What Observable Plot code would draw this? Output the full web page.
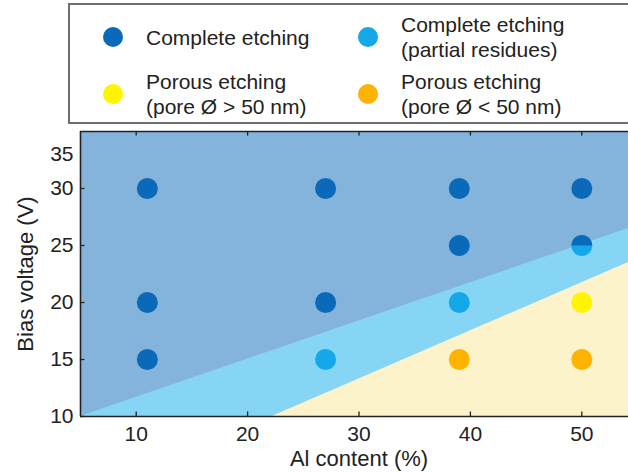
<!DOCTYPE html>
<html>
<head>
<meta charset="utf-8">
<script src="https://cdn.jsdelivr.net/npm/d3@7"></script>
<script src="https://cdn.jsdelivr.net/npm/@observablehq/plot@0.6"></script>
<style>
  html, body { margin: 0; padding: 0; background: #fff; overflow: hidden; }
  body { width: 628px; height: 472px; font-family: "Liberation Sans", Arial, sans-serif; color: #222; }
  #legend { position: relative; width: 628px; height: 127px; overflow: hidden; }
  #legendBox { position: absolute; left: 68px; top: 3px; width: 590px; height: 117px; border: 2px solid #6e6e6e; }
  .sw { position: absolute; width: 20px; height: 20px; border-radius: 50%; transform: translate(-50%, -50%); }
  .lab { position: absolute; white-space: pre; font-size: 21px; line-height: 25px; transform: translateY(-50%); color: #222; }
  #chart svg { display: block; }
</style>
</head>
<body>
<div id="legend"><div id="legendBox"></div></div>
<div id="chart"></div>
<script>
// ---- data ----
const categories = ["complete", "residues", "porousLarge", "porousSmall"];
const categoryLabels = ["Complete etching", "Complete etching\n(partial residues)", "Porous etching\n(pore Ø > 50 nm)", "Porous etching\n(pore Ø < 50 nm)"];
const categoryColors = ["#0b69ba", "#14a8e8", "#fff500", "#ffb300"];

const alContent   = [11, 11, 11, 27, 27, 27, 39, 39, 39, 39, 50, 50, 50, 50];
const biasVoltage = [30, 20, 15, 30, 20, 15, 30, 25, 20, 15, 30, 25, 20, 15];
const outcome = ["complete", "complete", "complete", "complete", "complete", "residues",
                 "complete", "complete", "residues", "porousSmall",
                 "complete", "residues", "porousLarge", "porousSmall"];
// sample at the boundary: upper half drawn as "complete"
const mixedAl = [50];
const mixedBias = [25];
const mixedUpper = ["complete"];

// region boundaries (Al content, bias voltage)
const boundaryCompleteX = [5, 54.19];
const boundaryCompleteY = [10, 26.5];
const boundaryPorousX = [22.2, 54.19];
const boundaryPorousY = [10, 23.5];

const regionColors = { complete: "#84b4dc", residues: "#87d5f4", porous: "#fcf3cb" };

const xDomain = [5, 54.19];
const yDomain = [10, 35];
const xTicks = [10, 20, 30, 40, 50];
const yTicks = [10, 15, 20, 25, 30];
const yTopLabel = [35];
const xTitle = "Al content (%)";
const yTitle = "Bias voltage (V)";

// ---- legend ----
const legendBox = document.getElementById("legend");
const legendCols = [113, 368];
const legendRows = [37, 94];
categories.forEach((c, i) => {
  const cx = legendCols[i % 2], cy = legendRows[Math.floor(i / 2)];
  const sw = document.createElement("div");
  sw.className = "sw";
  sw.style.left = cx + "px"; sw.style.top = cy + "px";
  sw.style.background = categoryColors[i];
  legendBox.appendChild(sw);
  const lab = document.createElement("div");
  lab.className = "lab";
  lab.style.left = (cx + 33) + "px"; lab.style.top = (cy - 0.5) + "px";
  lab.textContent = categoryLabels[i];
  legendBox.appendChild(lab);
});

// ---- chart ----
const points = alContent.map((x, i) => ({ x, y: biasVoltage[i], c: outcome[i] }));
const mixed = mixedAl.map((x, i) => ({ x, y: mixedBias[i], c: mixedUpper[i] }));
const bA = boundaryCompleteX.map((x, i) => ({ x, y: boundaryCompleteY[i] }));
const bB = boundaryPorousX.map((x, i) => ({ x, y: boundaryPorousY[i] }));

const upperHalf = {
  draw(context, size) {
    const r = Math.sqrt(size / Math.PI);
    context.moveTo(r, 0);
    context.arc(0, 0, r, 0, Math.PI, true);
    context.closePath();
  }
};

const tx = 0.4, ty = 0.4; // tick lengths in data units
const ink = "#222";
const font = 21;
const titleFont = 22;

const chart = Plot.plot({
  width: 628,
  height: 345,
  marginTop: 4,
  marginBottom: 56,
  marginLeft: 80,
  marginRight: 0,
  style: { fontFamily: "'Liberation Sans', Arial, sans-serif", background: "transparent", color: ink },
  x: { domain: xDomain, axis: null },
  y: { domain: yDomain, axis: null },
  color: { domain: categories, range: categoryColors },
  marks: [
    Plot.frame({ fill: regionColors.residues, stroke: "none" }),
    Plot.areaY(bB, { x: "x", y1: yDomain[0], y2: "y", fill: regionColors.porous }),
    Plot.areaY(bA, { x: "x", y1: "y", y2: yDomain[1], fill: regionColors.complete }),
    // axis lines
    Plot.ruleY([yDomain[0], yDomain[1]], { stroke: ink, strokeWidth: 1.6 }),
    Plot.ruleX([xDomain[0]], { stroke: ink, strokeWidth: 1.6 }),
    // inward ticks
    Plot.ruleX(xTicks, { x: d => d, y1: yDomain[0], y2: yDomain[0] + ty, stroke: ink, strokeWidth: 1.3 }),
    Plot.ruleX(xTicks, { x: d => d, y1: yDomain[1] - ty, y2: yDomain[1], stroke: ink, strokeWidth: 1.3 }),
    Plot.ruleY(yTicks, { y: d => d, x1: xDomain[0], x2: xDomain[0] + tx, stroke: ink, strokeWidth: 1.3 }),
    // tick labels
    Plot.text(xTicks, { x: d => d, y: yDomain[0], dy: 18, text: d => String(d), fontSize: font, fill: ink }),
    Plot.text(yTicks, { x: xDomain[0], y: d => d, dx: -7, textAnchor: "end", text: d => String(d), fontSize: font, fill: ink }),
    Plot.text(yTopLabel, { x: xDomain[0], y: yDomain[1], dx: -7, dy: 23, textAnchor: "end", text: d => String(d), fontSize: font, fill: ink }),
    // axis titles
    Plot.text([xTitle], { x: (xDomain[0] + 55) / 2, frameAnchor: "bottom", lineAnchor: "middle", textAnchor: "middle", dy: 42, text: d => d, fontSize: titleFont, fill: ink }),
    Plot.text([yTitle], { frameAnchor: "left", textAnchor: "middle", lineAnchor: "middle", dx: -55, rotate: -90, text: d => d, fontSize: titleFont, fill: ink }),
    // samples
    Plot.dot(points, { x: "x", y: "y", fill: "c", r: 10.5 }),
    Plot.dot(mixed, { x: "x", y: "y", fill: "c", r: 10.5, symbol: upperHalf })
  ]
});
document.getElementById("chart").appendChild(chart);
</script>
</body>
</html>
